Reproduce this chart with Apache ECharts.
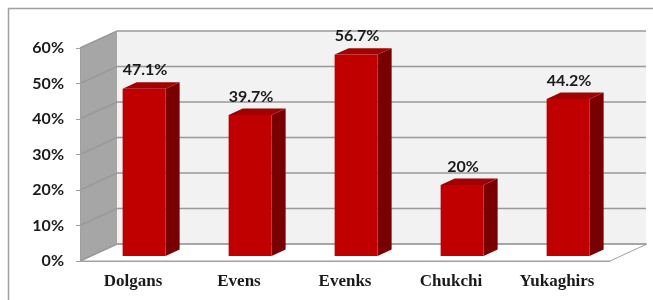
<!DOCTYPE html>
<html>
<head>
<meta charset="utf-8">
<script src="https://cdn.jsdelivr.net/npm/echarts@6/dist/echarts.min.js"></script>
<style>
  html, body { margin: 0; padding: 0; background: #fff; }
  #main { width: 653px; height: 300px; }
</style>
</head>
<body>
<div id="main"></div>
<script>
const categories = ['Dolgans', 'Evens', 'Evenks', 'Chukchi', 'Yukaghirs'];
const shares = [47.1, 39.7, 56.7, 20, 44.2];
const yTicks = [0, 10, 20, 30, 40, 50, 60];

// fake 3d: how far the back wall sits from the front plane
const DX = 37, DY = -17;

const myChart = echarts.init(document.getElementById('main'));

function renderWalls(params, api) {
    const cs = params.coordSys;
    const x0 = cs.x, x1 = cs.x + cs.width;
    const yb = api.coord([0, 0])[1];
    const yt = api.coord([0, yTicks[yTicks.length - 1]])[1];
    const kids = [];
    // side wall
    kids.push({
        type: 'polygon',
        shape: { points: [[x0, yt], [x0 + DX, yt + DY], [x0 + DX, yb + DY], [x0, yb]] },
        style: { fill: '#a6a6a6' }
    });
    // back wall
    kids.push({
        type: 'rect',
        shape: { x: x0 + DX, y: yt + DY, width: x1 - x0 - 1, height: yb - yt },
        style: { fill: '#f2f2f2' }
    });
    // floor
    kids.push({
        type: 'polygon',
        shape: { points: [[x0, yb], [x0 + DX, yb + DY], [x1 + DX, yb + DY], [x1, yb]] },
        style: { fill: '#fff', stroke: '#a0a0a0', lineWidth: 1 }
    });
    yTicks.forEach(v => {
        const y = api.coord([0, v])[1];
        kids.push({
            type: 'polyline',
            shape: { points: [[x0, y], [x0 + DX, y + DY], [x1 + DX - 1, y + DY]] },
            style: { stroke: '#999', lineWidth: 1.5, fill: null }
        });
    });
    return { type: 'group', children: kids };
}

function renderBar(params, api) {
    const i = api.value(0);
    const v = api.value(1);
    const top = api.coord([i, v]);
    const base = api.coord([i, 0]);
    const w = api.size([1, 0])[0] * 0.405;
    const d0 = 0.3, d1 = 0.68;
    const fx = top[0] + DX * d0 - w / 2;
    const fyTop = top[1] + DY * d0;
    const fyBot = base[1] + DY * d0;
    const ddx = DX * (d1 - d0), ddy = DY * (d1 - d0);
    return {
        type: 'group',
        children: [
            {
                type: 'polygon',
                shape: { points: [[fx + w, fyTop], [fx + w + ddx, fyTop + ddy], [fx + w + ddx, fyBot + ddy], [fx + w, fyBot]] },
                style: { fill: '#780000' }
            },
            {
                type: 'polygon',
                shape: { points: [[fx, fyTop], [fx + ddx, fyTop + ddy], [fx + w + ddx, fyTop + ddy], [fx + w, fyTop]] },
                style: { fill: '#a40000' }
            },
            {
                type: 'rect',
                shape: { x: fx, y: fyTop, width: w, height: fyBot - fyTop },
                style: { fill: '#c00000' }
            },
            {
                type: 'text',
                x: fx + w / 2 + 1,
                y: fyTop + ddy - 4,
                style: {
                    text: v + '%',
                    fill: '#1a1a1a',
                    font: 'bold 16px Lato',
                    textAlign: 'center',
                    textVerticalAlign: 'bottom'
                }
            }
        ]
    };
}

const option = {
    animation: false,
    backgroundColor: '#fff',
    graphic: [{
        type: 'rect',
        left: 6, top: 6,
        shape: { width: 700, height: 400 },
        style: { fill: null, stroke: '#a0a0a0', lineWidth: 1.5 },
        z: -1
    }],
    grid: { left: 80, right: 43, top: 48, bottom: 39 },
    xAxis: {
        type: 'category',
        data: categories,
        z: 3,
        axisLine: { lineStyle: { color: '#a0a0a0', width: 1 } },
        axisTick: { length: 5, lineStyle: { color: '#a0a0a0' } },
        axisLabel: {
            margin: 12,
            color: '#1a1a1a',
            fontFamily: 'Liberation Serif',
            fontWeight: 'bold',
            fontSize: 17
        }
    },
    yAxis: {
        type: 'value',
        min: 0,
        max: 60,
        interval: 10,
        z: 3,
        axisLine: { show: true, lineStyle: { color: '#a0a0a0', width: 1 } },
        axisTick: { show: true, length: 4, lineStyle: { color: '#a0a0a0' } },
        splitLine: { show: false },
        axisLabel: {
            margin: 16,
            formatter: '{value}%',
            color: '#1a1a1a',
            fontFamily: 'Lato',
            fontWeight: 'bold',
            fontSize: 16
        }
    },
    series: [
        {
            type: 'custom',
            z: 1,
            silent: true,
            renderItem: renderWalls,
            data: [[0, 0]]
        },
        {
            type: 'custom',
            z: 4,
            renderItem: renderBar,
            data: shares.map((v, i) => [i, v])
        }
    ]
};

myChart.setOption(option);
</script>
</body>
</html>
